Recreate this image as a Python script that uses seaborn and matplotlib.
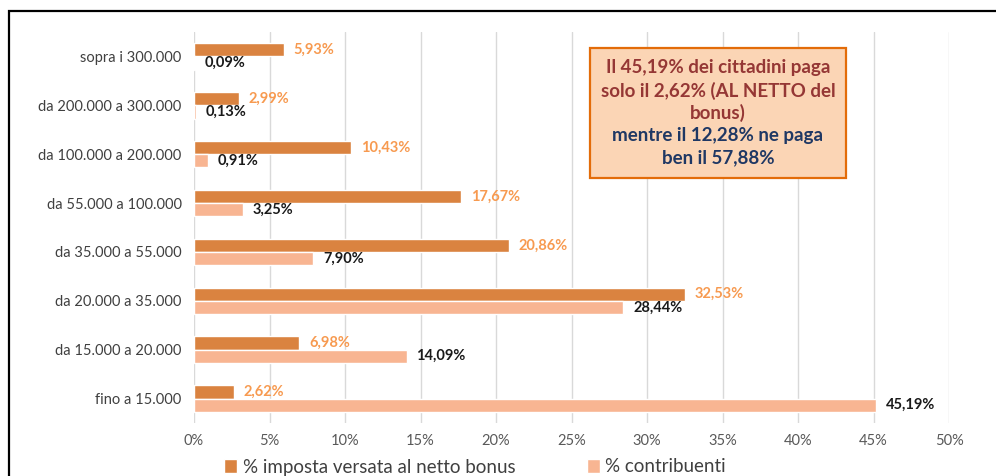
import pandas as pd
import matplotlib.pyplot as plt
import seaborn as sns
from matplotlib.patches import Rectangle

# Income brackets, top to bottom as drawn
fasce = [
    "sopra i 300.000",
    "da 200.000 a 300.000",
    "da 100.000 a 200.000",
    "da 55.000 a 100.000",
    "da 35.000 a 55.000",
    "da 20.000 a 35.000",
    "da 15.000 a 20.000",
    "fino a 15.000",
]
imposta = [5.93, 2.99, 10.43, 17.67, 20.86, 32.53, 6.98, 2.62]
contribuenti = [0.09, 0.13, 0.91, 3.25, 7.90, 28.44, 14.09, 45.19]
serie = ["% imposta versata al netto bonus", "% contribuenti"]
xticks = [0, 5, 10, 15, 20, 25, 30, 35, 40, 45, 50]

# callout text: (line, colour)
box_lines = [
    ("Il 45,19% dei cittadini paga", "#953735"),
    ("solo il 2,62% (AL NETTO del", "#953735"),
    ("bonus)", "#953735"),
    ("mentre il 12,28% ne paga", "#1F3864"),
    ("ben il 57,88%", "#1F3864"),
]

col_dark = "#DA8340"
col_light = "#F8B592"


def fmt(v):
    return f"{v:.2f}%".replace(".", ",")


df = pd.DataFrame({
    "fascia": fasce * 2,
    "valore": imposta + contribuenti,
    "serie": [serie[0]] * len(fasce) + [serie[1]] * len(fasce),
})

sns.set_style("white")
plt.rcParams["font.family"] = ["Lato", "DejaVu Sans"]

W, H = 996, 476
fig = plt.figure(figsize=(W / 100, H / 100), dpi=100)
ax = fig.add_axes([194 / W, 1 - 423 / H, (949 - 194) / W, (423 - 32) / H])

sns.barplot(
    data=df, x="valore", y="fascia", hue="serie", order=fasce,
    hue_order=serie, palette=[col_dark, col_light], orient="h",
    width=0.54, saturation=1, ax=ax, legend=True,
)

ax.set_xlim(0, 50)
ax.set_xticks(xticks)
ax.set_xticklabels([f"{t}%" for t in xticks], fontsize=10.5, color="#595959")
ax.tick_params(axis="y", labelsize=10.5, labelcolor="#404040", length=0, pad=9)
ax.tick_params(axis="x", length=0, pad=8)
ax.set_xlabel("")
ax.set_ylabel("")
ax.xaxis.grid(True, color="#D9D9D9", linewidth=1)
ax.set_axisbelow(True)
sns.despine(ax=ax, left=True, bottom=True)

# data labels
ax.bar_label(ax.containers[0], labels=[fmt(v) for v in imposta], padding=7,
             color="#F79A50", fontsize=10.5, fontweight="bold")
ax.bar_label(ax.containers[1], labels=[fmt(v) for v in contribuenti], padding=7,
             color="#1A1A1A", fontsize=10.5, fontweight="bold")

# legend at the bottom
ax.legend(loc="center", bbox_to_anchor=(0.477, 9 / H), bbox_transform=fig.transFigure,
          ncol=2, frameon=False, fontsize=13.5, handlelength=0.7, handleheight=0.7,
          handletextpad=0.3, columnspacing=3.8, labelcolor="#404040")

# annotation box
fig.add_artist(Rectangle((590 / W, 1 - 178 / H), (846 - 590) / W, 130 / H,
                         transform=fig.transFigure, facecolor="#FBD5B5",
                         edgecolor="#E36C09", linewidth=1.6, zorder=5))
for i, (line, col) in enumerate(box_lines):
    fig.text(718 / W, 1 - (68 + 22.5 * i) / H, line, ha="center", va="center",
             fontsize=13.5, fontweight="bold", color=col, zorder=6)

# outer frame of the chart area
fig.add_artist(Rectangle((9 / W, -0.5), 2, 1.5 - 11 / H, transform=fig.transFigure,
                         fill=False, edgecolor="black", linewidth=1.6))

fig.savefig("out.png", dpi=100)
